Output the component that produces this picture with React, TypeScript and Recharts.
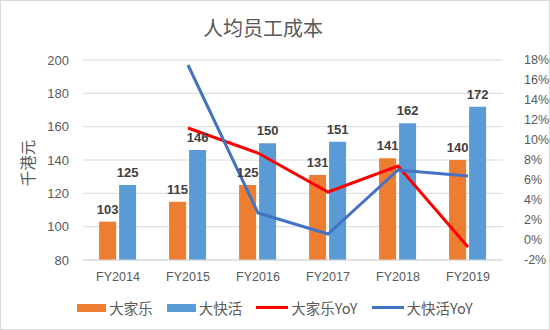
import React from 'react';
import {
  ComposedChart,
  Bar,
  Line,
  XAxis,
  YAxis,
  CartesianGrid,
  Legend,
  LabelList,
} from 'recharts';

const years = ['FY2014', 'FY2015', 'FY2016', 'FY2017', 'FY2018', 'FY2019'];
const cafeDeCoral = [103, 115, 125, 131, 141, 140]; // 大家乐
const fairwood = [125, 146, 150, 151, 162, 172]; // 大快活
const cafeDeCoralYoY = [null, 11.2, 8.7, 4.8, 7.4, -0.7];
const fairwoodYoY = [null, 17.5, 2.7, 0.6, 7.0, 6.4];
const leftTicks = [80, 100, 120, 140, 160, 180, 200];
const rightTicks = [-2, 0, 2, 4, 6, 8, 10, 12, 14, 16, 18];

const ORANGE = '#ED7D31';
const BLUE = '#5B9BD5';
const RED = '#FF0000';
const DARK_BLUE = '#4472C4';
const TEXT = '#595959';
const FONT = '"Liberation Sans", "Noto Sans CJK SC", sans-serif';
const CJK = '"Noto Sans CJK SC", sans-serif';

const data = years.map((year, i) => ({
  year,
  dajiale: cafeDeCoral[i],
  dakuaihuo: fairwood[i],
  dajialeYoY: cafeDeCoralYoY[i],
  dakuaihuoYoY: fairwoodYoY[i],
}));

// legend items: wide rectangles for bars, thick strokes for lines
const legendItems = [
  { name: '大家乐', color: ORANGE, type: 'bar' },
  { name: '大快活', color: BLUE, type: 'bar' },
  { name: '大家乐YoY', color: RED, type: 'line' },
  { name: '大快活YoY', color: DARK_BLUE, type: 'line' },
];

const CustomLegend = () => (
  <div style={{ display: 'flex', justifyContent: 'center', alignItems: 'center', gap: 14 }}>
    {legendItems.map((item) => (
      <div key={item.name} style={{ display: 'flex', alignItems: 'center' }}>
        <span
          style={{
            display: 'inline-block',
            width: item.type === 'bar' ? 29 : 32,
            height: item.type === 'bar' ? 8 : 3,
            background: item.color,
            marginRight: 3,
          }}
        />
        <span style={{ fontSize: 14.5, color: TEXT, fontFamily: CJK }}>{item.name}</span>
      </div>
    ))}
  </div>
);

// rotated axis title, next to the left ticks
const AxisTitle = (props: any) => {
  const { viewBox } = props;
  const cx = 26;
  const cy = viewBox.y + viewBox.height / 2 + 3;
  return (
    <text
      x={cx}
      y={cy}
      transform={`rotate(-90, ${cx}, ${cy})`}
      textAnchor="middle"
      dominantBaseline="central"
      fontSize={15.5}
      fill={TEXT}
      fontFamily={CJK}
    >
      千港元
    </text>
  );
};

const App = () => {
  return (
    <div
      style={{
        position: 'absolute',
        left: 0,
        top: 0,
        width: 550,
        height: 330,
        background: '#fff',
        border: '1px solid #d9d9d9',
        boxSizing: 'border-box',
        fontFamily: FONT,
      }}
    >
      <div
        style={{
          position: 'absolute',
          top: 12,
          left: 0,
          width: 524,
          textAlign: 'center',
          fontSize: 20,
          color: TEXT,
          fontFamily: CJK,
        }}
      >
        人均员工成本
      </div>
      <ComposedChart
        width={548}
        height={328}
        data={data}
        margin={{ top: 59, right: 0, bottom: 12, left: 0 }}
        barCategoryGap="23%"
        barGap={3}
      >
        <CartesianGrid yAxisId="left" vertical={false} stroke="#d9d9d9" />
        <XAxis
          dataKey="year"
          tickLine={false}
          axisLine={{ stroke: '#d9d9d9' }}
          tick={{ fontSize: 12.5, fill: TEXT, fontFamily: FONT }}
          tickMargin={6}
          height={37}
        />
        <YAxis
          yAxisId="left"
          domain={[80, 200]}
          ticks={leftTicks}
          interval={0}
          axisLine={false}
          tickLine={false}
          width={82}
          tick={{ fontSize: 13, fill: TEXT, fontFamily: FONT }}
          tickMargin={8}
          label={<AxisTitle />}
        />
        <YAxis
          yAxisId="right"
          orientation="right"
          domain={[-2, 18]}
          ticks={rightTicks}
          interval={0}
          axisLine={false}
          tickLine={false}
          width={46}
          tickFormatter={(v: number) => `${v}%`}
          tick={{ fontSize: 12.5, fill: TEXT, fontFamily: FONT }}
          tickMargin={15}
        />
        <Bar yAxisId="left" dataKey="dajiale" name="大家乐" fill={ORANGE} isAnimationActive={false}>
          <LabelList dataKey="dajiale" position="top" offset={8} style={{ fontSize: 13, fontWeight: 'bold', fill: '#404040', fontFamily: FONT }} />
        </Bar>
        <Bar yAxisId="left" dataKey="dakuaihuo" name="大快活" fill={BLUE} isAnimationActive={false}>
          <LabelList dataKey="dakuaihuo" position="top" offset={8} style={{ fontSize: 13, fontWeight: 'bold', fill: '#404040', fontFamily: FONT }} />
        </Bar>
        <Line
          yAxisId="right"
          dataKey="dajialeYoY"
          name="大家乐YoY"
          stroke={RED}
          strokeWidth={3}
          dot={false}
          type="linear"
          isAnimationActive={false}
        />
        <Line
          yAxisId="right"
          dataKey="dakuaihuoYoY"
          name="大快活YoY"
          stroke={DARK_BLUE}
          strokeWidth={3}
          dot={false}
          type="linear"
          isAnimationActive={false}
        />
        <Legend verticalAlign="bottom" height={20} content={<CustomLegend />} />
      </ComposedChart>
    </div>
  );
};

export default App;
